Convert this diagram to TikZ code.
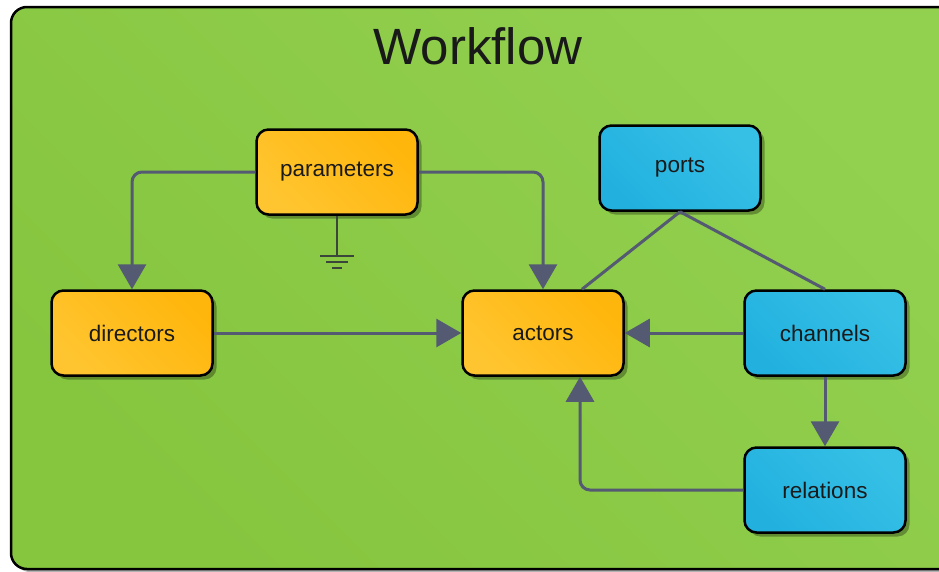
\documentclass[tikz,border=0pt]{standalone}
\usepackage{fontspec}
\setmainfont{Liberation Sans}
\usetikzlibrary{arrows.meta,shadows}
\definecolor{bgA}{HTML}{86C53E}
\definecolor{bgB}{HTML}{92D050}
\definecolor{orA}{HTML}{FFC530}
\definecolor{orB}{HTML}{FFB60C}
\definecolor{blA}{HTML}{22B1DF}
\definecolor{blB}{HTML}{36C0E6}
\definecolor{linec}{HTML}{535A72}
\definecolor{gndc}{HTML}{3A463A}
\definecolor{txtc}{HTML}{1A1A1A}
\begin{document}
\begin{tikzpicture}[x=1pt,y=-1pt,
  box/.style={rounded corners=12pt, draw=black, line width=2.5pt,
    minimum width=161pt, minimum height=85pt, text=txtc,
    font=\fontsize{22.5}{26}\selectfont,
    drop shadow={shadow xshift=4pt, shadow yshift=-4pt, fill=black, opacity=0.3}},
  obox/.style={box, shading=axis, left color=orA, right color=orB, shading angle=135},
  bbox/.style={box, shading=axis, left color=blA, right color=blB, shading angle=135},
  arr/.style={draw=linec, line width=3pt, -{Triangle[length=25pt,width=28pt]}},
  conn/.style={draw=linec, line width=3pt},
  gline/.style={draw=gndc, line width=2pt}]
\useasboundingbox (0,0) rectangle (939,571);
\path[draw=black, line width=2.5pt, rounded corners=16pt, shading=axis, left color=bgA, right color=bgB, shading angle=135,
  drop shadow={shadow xshift=3pt, shadow yshift=-3pt, fill=black, opacity=0.3}] (11,7) rectangle (960,569);
\node[font=\fontsize{51}{60}\selectfont, text=black!90] (title) at (478,46) {Workflow};

\node[obox] (param) at (337,172) {parameters};
\node[bbox] (ports) at (680,168) {ports};
\node[obox] (dir) at (132,333) {directors};
\node[obox] (act) at (543,333) {actors};
\node[bbox] (chan) at (825,333) {channels};
\node[bbox] (rel) at (825,490) {relations};

\draw[arr, rounded corners=10pt] (param.west) -| (dir.north);
\draw[arr, rounded corners=10pt] (param.east) -| (act.north);
\draw[arr] (dir) -- (act);
\draw[arr] (chan) -- (act);
\draw[arr] (chan) -- (rel);
\draw[arr, rounded corners=10pt] (rel.west) -| ([xshift=37pt]act.south);
\draw[conn] (ports.south) -- ([xshift=39pt]act.north);
\draw[conn] (ports.south) -- (chan.north);

\coordinate (gnd) at (337,256);
\draw[gline] (param.south) -- (gnd);
\draw[gline] ([xshift=-17pt]gnd) -- ([xshift=17pt]gnd);
\draw[gline] ([xshift=-11pt,yshift=-6pt]gnd) -- ([xshift=11pt,yshift=-6pt]gnd);
\draw[gline] ([xshift=-5pt,yshift=-12pt]gnd) -- ([xshift=5pt,yshift=-12pt]gnd);
\end{tikzpicture}
\end{document}
